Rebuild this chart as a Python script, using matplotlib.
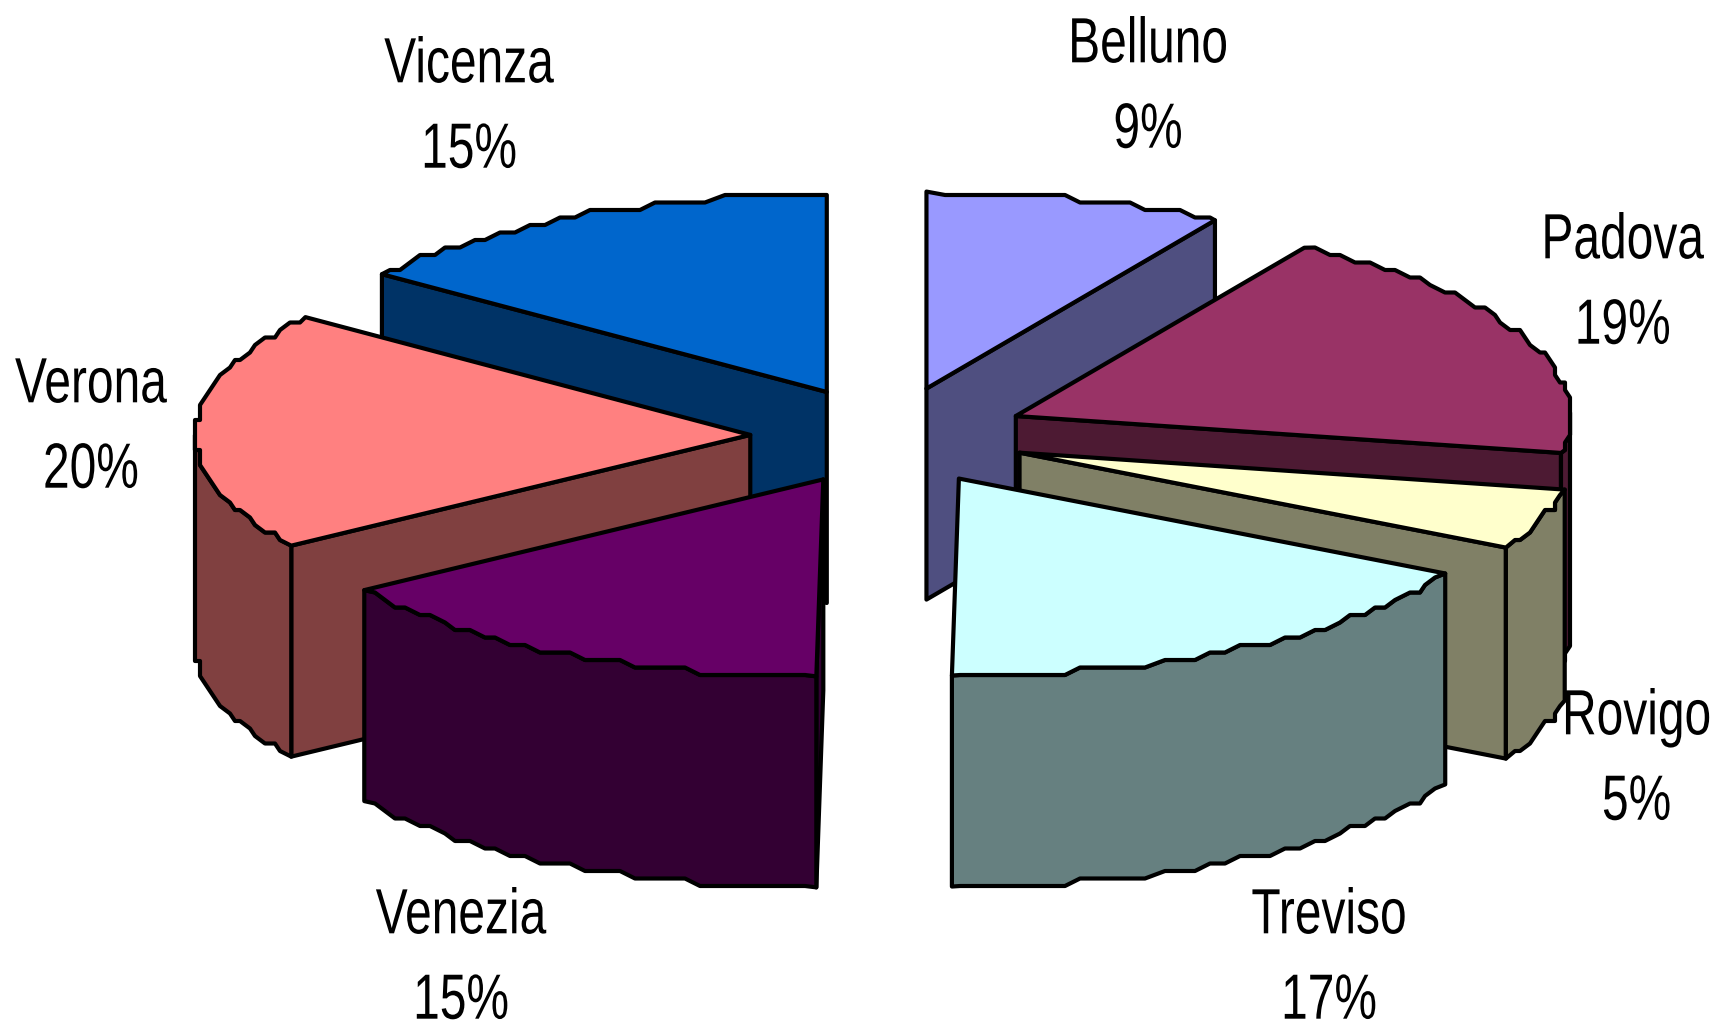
import numpy as np
import matplotlib
matplotlib.use("Agg")
import matplotlib.pyplot as plt
from matplotlib.patches import Polygon
from matplotlib.patheffects import AbstractPathEffect
from matplotlib.transforms import Affine2D

# --- data
categories = ["Belluno", "Padova", "Rovigo", "Treviso", "Venezia", "Verona", "Vicenza"]
shares = [8.7, 19.3, 5.0, 17.2, 15.3, 19.7, 14.8]
top_colors = ["#9999FF", "#993366", "#FFFFCC", "#CCFFFF", "#660066", "#FF8080", "#0066CC"]
side_colors = ["#4F4F80", "#4D1A33", "#808066", "#668080", "#330033", "#804040", "#003366"]
label_x = [1148, 1704, 1711, 1329, 461, 15, 469]
label_y = [88, 284, 760, 959, 959, 428, 108]
label_ha = ["center", "right", "right", "center", "center", "left", "center"]

# --- layout
CX, CY = 889.0, 436.0
RX, RY = 555.0, 197.0
DEPTH = 211.0
EXPLODE = 0.25
GRID_X, GRID_Y = 5.0, 7.5
STEP = 1.8
LW = 3.0
TEXT_SQUEEZE = 0.75
draw_order = ["Belluno", "Vicenza", "Padova", "Verona", "Venezia", "Rovigo", "Treviso"]

fig = plt.figure(figsize=(17.17, 10.29), dpi=100, facecolor="white")
ax = fig.add_axes([0, 0, 1, 1])
ax.set_xlim(0, 1717)
ax.set_ylim(1029, 0)
ax.axis("off")

edges = np.concatenate([[0], np.cumsum(shares)]) * 3.6


class Squeeze(AbstractPathEffect):
    """Narrows the glyphs about a fixed x, since no narrow face is installed."""

    def __init__(self, x, factor):
        super().__init__()
        self.x, self.factor = x, factor

    def draw_path(self, renderer, gc, tpath, affine, rgbFace=None):
        squeeze = Affine2D().translate(-self.x, 0).scale(self.factor, 1).translate(self.x, 0)
        renderer.draw_path(gc, tpath, affine + squeeze, rgbFace)


def arc(ox, oy, t0, t1):
    """Outer edge of the ellipse with the coarse stepped outline of the source."""
    inner = np.arange(np.ceil(t0 / STEP + 1e-6), np.floor(t1 / STEP - 1e-6) + 1) * STEP
    deg = np.concatenate([[t0], inner, [t1]])
    th = np.radians(deg)
    x = ox + RX * np.sin(th)
    y = oy - RY * np.cos(th)
    xq = np.round(x / GRID_X) * GRID_X
    yq = np.round(y / GRID_Y) * GRID_Y
    exact = np.isin(np.round(deg, 6), np.round(edges, 6))
    xq[exact] = x[exact]
    yq[exact] = y[exact]
    return np.column_stack([xq, yq])


def face(pts, color, z):
    ax.add_patch(Polygon(pts, closed=True, facecolor=color, edgecolor="black",
                         linewidth=LW, joinstyle="round", zorder=z))


for z, name in enumerate(draw_order):
    i = categories.index(name)
    t0, t1 = edges[i], edges[i + 1]
    mid = np.radians((t0 + t1) / 2)
    ox = CX + EXPLODE * RX * np.sin(mid)
    oy = CY - EXPLODE * RY * np.cos(mid)
    down = np.array([0, DEPTH])
    apex = np.array([ox, oy])
    zb = z * 10
    # radial faces
    for t, visible in ((t0, t0 > 180), (t1, t1 < 180)):
        if visible:
            p = arc(ox, oy, t, t)[0]
            face([apex, p, p + down, apex + down], side_colors[i], zb + 1)
    # rounded outer face
    a0, a1 = max(t0, 90), min(t1, 270)
    if a1 > a0:
        top = arc(ox, oy, a0, a1)
        face(np.vstack([top, (top + down)[::-1]]), side_colors[i], zb + 2)
    # top face
    face(np.vstack([apex, arc(ox, oy, t0, t1)]), top_colors[i], zb + 3)

for name, v, x, y, ha in zip(categories, shares, label_x, label_y, label_ha):
    ax.text(x, y, f"{name}\n{round(v)}%", ha=ha, va="center", multialignment="center",
            fontsize=46, family="Liberation Sans", color="black", linespacing=1.54, zorder=200,
            path_effects=[Squeeze(x, TEXT_SQUEEZE)])

fig.savefig("out.png", dpi=100, facecolor="white")
